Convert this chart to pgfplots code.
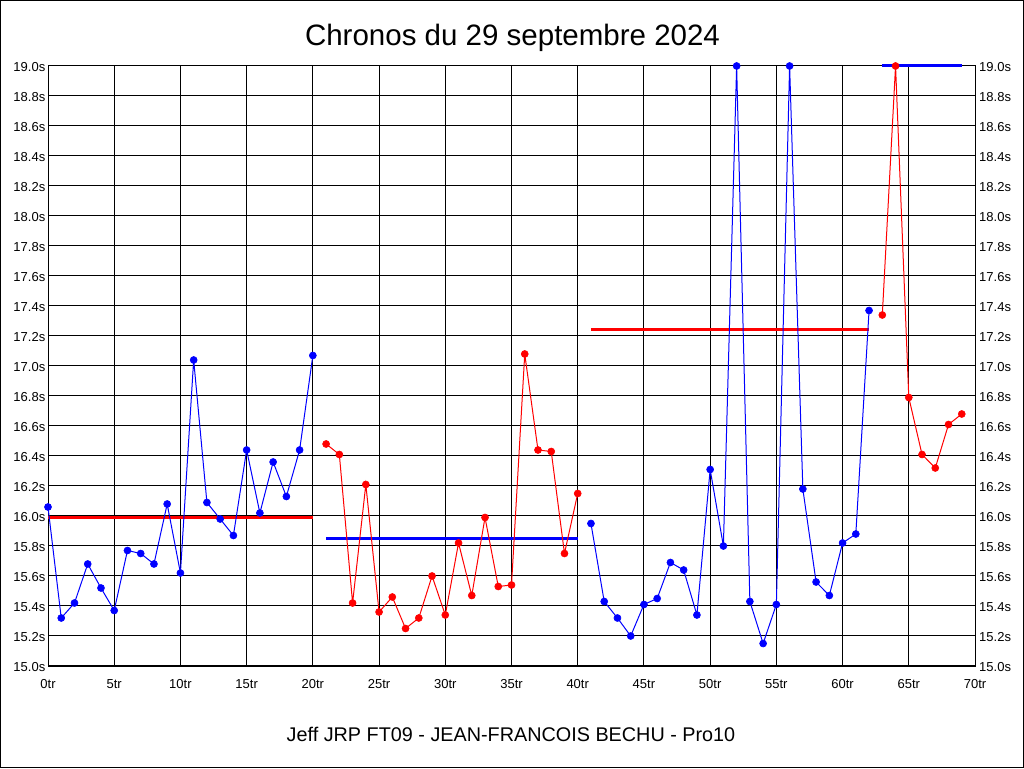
\documentclass[border=0pt]{standalone}
\usepackage{pgfplots}
\pgfplotsset{compat=1.18}
\usepackage{fontspec}
\setmainfont{Liberation Sans}
\definecolor{cblue}{RGB}{0,0,255}
\definecolor{cred}{RGB}{255,0,0}

\pgfplotsset{
  chrono/.style={
    scale only axis, width=927pt, height=600pt,
    at={(48pt,102pt)}, anchor=south west,
    xmin=0, xmax=70, ymin=15, ymax=19,
    xtick={0,5,...,70},
    ytick={15.0,15.2,15.4,15.6,15.8,16.0,16.2,16.4,16.6,16.8,17.0,17.2,17.4,17.6,17.8,18.0,18.2,18.4,18.6,18.8,19.0},
    major tick length=0pt,
    axis line style={line width=1pt, black},
    /pgf/number format/assume math mode=true,
    tick label style={font=\fontsize{13}{15}\selectfont},
    yticklabel={\pgfmathprintnumber[fixed,fixed zerofill,precision=1]{\tick}s},
  },
  serie/.style={line width=1pt, draw=#1, mark=*, mark size=3.5pt,
    mark options={solid, fill=#1, draw=#1, line width=0.6pt}},
  moy/.style={line width=3pt, draw=#1, no marks},
}

\begin{document}
\begin{tikzpicture}[x=1pt,y=1pt]
\useasboundingbox (0,0) rectangle (1024,768);
\draw[line width=1pt] (0.5,0.5) rectangle (1023.5,767.5);

\begin{axis}[chrono, clip=false,
  grid=major, grid style={line width=1pt, black},
  xticklabel={\pgfmathprintnumber{\tick}tr},
  xticklabel style={anchor=north, inner ysep=0pt, yshift=-13pt},
  yticklabel style={anchor=east, inner xsep=2.5pt, yshift=-1.5pt}]

% moyennes
\addplot[moy=cred] coordinates {(0,15.99) (20,15.99)};
\addplot[moy=cblue] coordinates {(21,15.85) (40,15.85)};
\addplot[moy=cred] coordinates {(41,17.24) (62,17.24)};
\addplot[moy=cblue] coordinates {(63,19.00) (69,19.00)};

% chronos
\addplot[serie=cblue] coordinates {
  (0,16.06) (1,15.32) (2,15.42) (3,15.68) (4,15.52) (5,15.37) (6,15.77)
  (7,15.75) (8,15.68) (9,16.08) (10,15.62) (11,17.04) (12,16.09) (13,15.98)
  (14,15.87) (15,16.44) (16,16.02) (17,16.36) (18,16.13) (19,16.44) (20,17.07)};
\addplot[serie=cred] coordinates {
  (21,16.48) (22,16.41) (23,15.42) (24,16.21) (25,15.36) (26,15.46) (27,15.25)
  (28,15.32) (29,15.60) (30,15.34) (31,15.82) (32,15.47) (33,15.99) (34,15.53)
  (35,15.54) (36,17.08) (37,16.44) (38,16.43) (39,15.75) (40,16.15)};
\addplot[serie=cblue] coordinates {
  (41,15.95) (42,15.43) (43,15.32) (44,15.20) (45,15.41) (46,15.45) (47,15.69)
  (48,15.64) (49,15.34) (50,16.31) (51,15.80) (52,19.00) (53,15.43) (54,15.15)
  (55,15.41) (56,19.00) (57,16.18) (58,15.56) (59,15.47) (60,15.82) (61,15.88)
  (62,17.37)};
\addplot[serie=cred] coordinates {
  (63,17.34) (64,19.00) (65,16.79) (66,16.41) (67,16.32) (68,16.61) (69,16.68)};
\end{axis}

\begin{axis}[chrono, xtick=\empty, axis line style={draw=none},
  yticklabel pos=right,
  yticklabel style={anchor=west, inner xsep=0pt, xshift=4pt, yshift=-1.5pt}]
\end{axis}

\node[anchor=base, font=\fontsize{29.5}{34}\selectfont] at (512.5,722.5) {Chronos du 29 septembre 2024};
\node[anchor=base, font=\fontsize{19.8}{23}\selectfont] at (511,26.5) {Jeff JRP FT09 - JEAN-FRANCOIS BECHU - Pro10};
\end{tikzpicture}
\end{document}
